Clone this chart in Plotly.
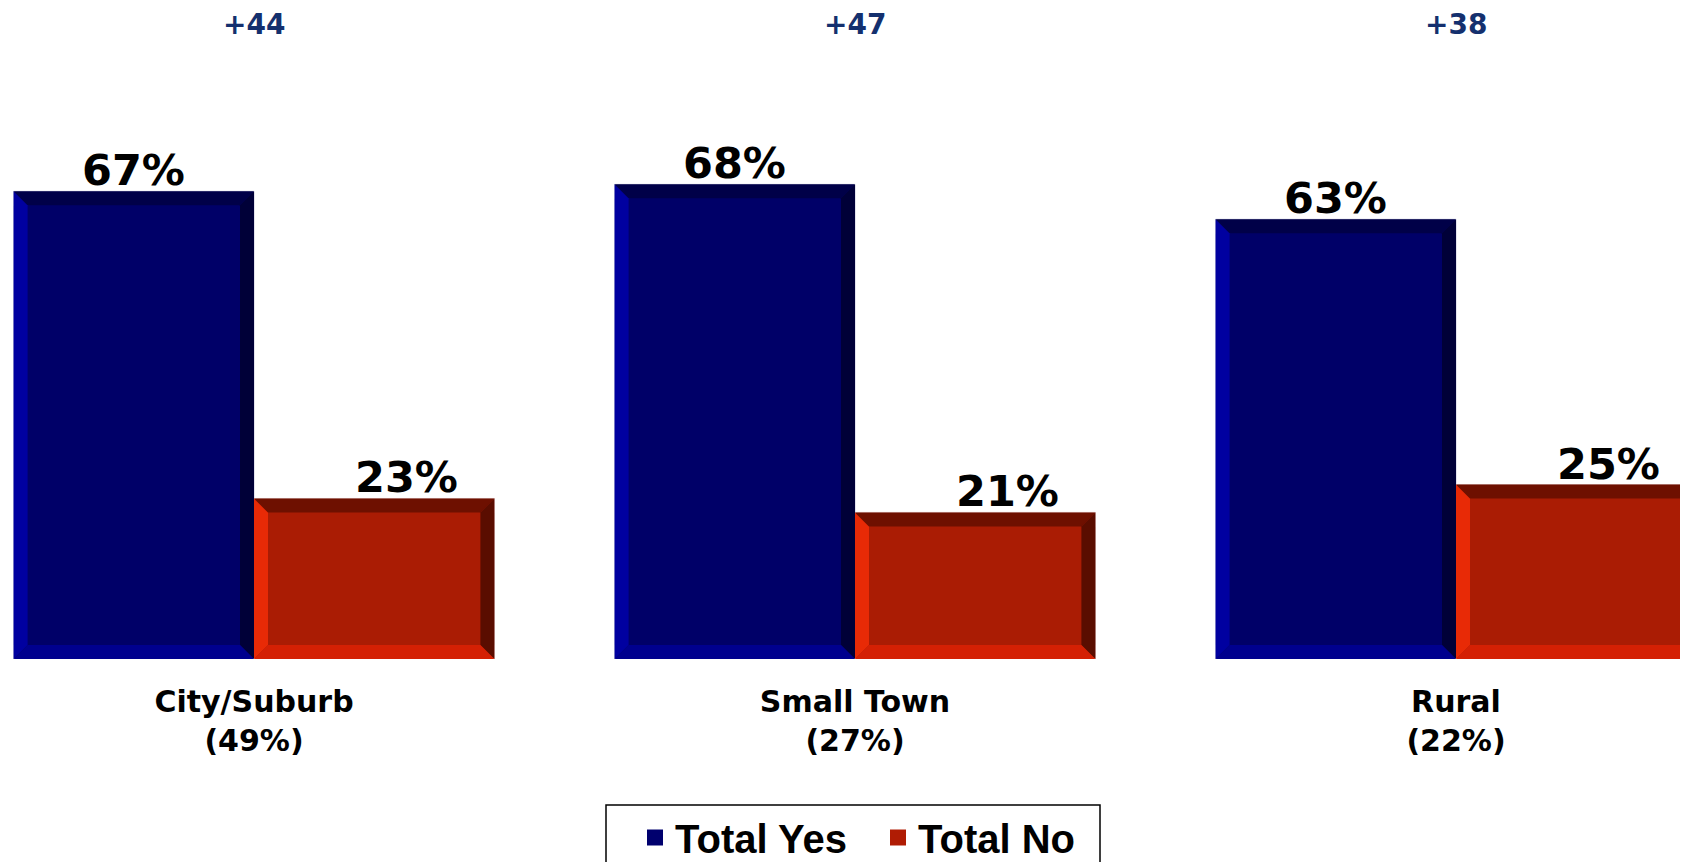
import plotly.graph_objects as go

categories = ['City/Suburb<br>(49%)', 'Small Town<br>(27%)', 'Rural<br>(22%)']
total_yes = [67, 68, 63]
total_no = [23, 21, 25]
margins = ['+44', '+47', '+38']

# the page has an 8px body margin; the figure runs a little past the window bottom
W, H = 1672, 880
PLOT_H = 651
X_RANGE = [-246 / 601, -246 / 601 + W / 601]
Y_RANGE = [0, PLOT_H / 6.98]

xs = list(range(len(categories)))

fig = go.Figure()
fig.add_bar(x=xs, y=total_yes, name='Total Yes', marker_color='#000068',
            marker_line=dict(color='#c8c8dc', width=1), showlegend=False)
fig.add_bar(x=xs, y=total_no, name='Total No', marker_color='#aa1c04',
            marker_line=dict(color='#e0c8c8', width=1), showlegend=False)

# legend entries with bigger square swatches
fig.add_scatter(x=[None], y=[None], mode='markers', name='Total Yes',
                marker=dict(symbol='square', size=18, color='#00006e'))
fig.add_scatter(x=[None], y=[None], mode='markers', name='Total No',
                marker=dict(symbol='square', size=18, color='#b01c04'))

# bevel edges, converted from pixels to data units
bev = 14
dx = bev * (X_RANGE[1] - X_RANGE[0]) / W
dy = bev * (Y_RANGE[1] - Y_RANGE[0]) / PLOT_H
half = 0.4

def bevel(x0, x1, top, cols):
    left, topc, right, bottom = cols
    polys = [
        (left, [(x0, 0), (x0, top), (x0 + dx, top - dy), (x0 + dx, dy)]),
        (topc, [(x0, top), (x1, top), (x1 - dx, top - dy), (x0 + dx, top - dy)]),
        (right, [(x1, top), (x1, 0), (x1 - dx, dy), (x1 - dx, top - dy)]),
        (bottom, [(x0, 0), (x1, 0), (x1 - dx, dy), (x0 + dx, dy)]),
    ]
    for c, pts in polys:
        path = 'M ' + ' L '.join(f'{px},{py}' for px, py in pts) + ' Z'
        fig.add_shape(type='path', path=path, xref='x', yref='y',
                      fillcolor=c, line_width=0, layer='above')

blue_cols = ('#0000a0', '#000048', '#000038', '#00008e')
red_cols = ('#e82a06', '#6e1000', '#5a0d00', '#d42004')
lbl_font = dict(family='DejaVu Sans', size=43, color='black', weight='bold')
for i in xs:
    bevel(i - half, i, total_yes[i], blue_cols)
    bevel(i, i + half, total_no[i], red_cols)
    fig.add_annotation(x=i - half / 2, y=total_yes[i], text=f'{total_yes[i]}%',
                       showarrow=False, yanchor='bottom', yshift=-6, font=lbl_font)
    fig.add_annotation(x=i + half / 2, y=total_no[i], text=f'{total_no[i]}%',
                       showarrow=False, yanchor='bottom', yshift=-6, xshift=32,
                       font=lbl_font)
    fig.add_annotation(x=i, y=1 - 16 / PLOT_H, yref='paper', text=margins[i],
                       showarrow=False, yanchor='middle',
                       font=dict(family='DejaVu Sans', size=28, color='#14306e', weight='bold'))

# legend frame
fig.add_shape(type='rect', xref='paper', yref='paper',
              x0=598 / W, x1=1092 / W, y0=-0.5, y1=-(797 - PLOT_H) / PLOT_H,
              line=dict(color='black', width=1.5), fillcolor='rgba(0,0,0,0)')

fig.update_layout(
    width=W, height=H,
    margin=dict(l=0, r=0, t=0, b=H - PLOT_H),
    paper_bgcolor='white', plot_bgcolor='white',
    barmode='group', bargap=0.2, bargroupgap=0,
    xaxis=dict(range=X_RANGE, tickvals=xs, ticktext=categories, showgrid=False,
               zeroline=False, showline=False, ticks='', ticklabelstandoff=22,
               tickfont=dict(family='DejaVu Sans', size=30, color='black', weight='bold')),
    yaxis=dict(range=Y_RANGE, visible=False),
    legend=dict(orientation='h', x=627 / W, xanchor='left',
                y=-(797 - PLOT_H) / PLOT_H, yanchor='top',
                bgcolor='rgba(0,0,0,0)', borderwidth=0, itemwidth=30,
                entrywidth=198, entrywidthmode='pixels',
                font=dict(family='Liberation Sans', size=40, color='black', weight='bold')),
    showlegend=True,
)

fig.write_html('out.html')
